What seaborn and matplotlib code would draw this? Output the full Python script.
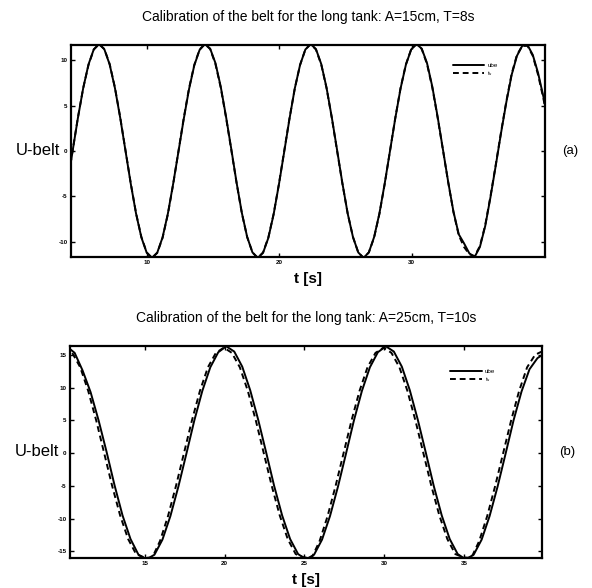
import numpy as np
import pandas as pd
import matplotlib
matplotlib.use("Agg")
import matplotlib.pyplot as plt
import seaborn as sns

# ---------------- panel (a): A=15cm, T=8s ----------------
t_a = [3.96, 4.36, 4.76, 5.16, 5.56, 5.96, 6.36, 6.76, 7.16, 7.56, 7.96, 8.36, 8.76, 9.16,
       9.56, 9.96, 10.36, 10.76, 11.16, 11.56, 11.96, 12.36, 12.76, 13.16, 13.56, 13.96,
       14.36, 14.76, 15.16, 15.56, 15.96, 16.36, 16.76, 17.16, 17.56, 17.96, 18.36, 18.76,
       19.16, 19.56, 19.96, 20.36, 20.76, 21.16, 21.56, 21.96, 22.36, 22.76, 23.16, 23.56,
       23.96, 24.36, 24.76, 25.16, 25.56, 25.96, 26.36, 26.76, 27.16, 27.56, 27.96, 28.36,
       28.76, 29.16, 29.56, 29.96, 30.36, 30.76, 31.16, 31.56, 31.96, 32.36, 32.76, 33.16,
       33.56, 33.96, 34.36, 34.76, 35.16, 35.56, 35.96, 36.36, 36.76, 37.16, 37.56, 37.96,
       38.36, 38.76, 39.16, 39.56, 39.96, 40.36]
ube_a = [-3.65, 0.0, 3.65, 6.94, 9.55, 11.22, 11.8, 11.22, 9.55, 6.94, 3.65, 0.0, -3.65,
         -6.94, -9.55, -11.22, -11.8, -11.22, -9.55, -6.94, -3.65, -0.1, 3.5, 6.8, 9.45,
         11.15, 11.8, 11.3, 9.7, 7.1, 3.8, 0.2, -3.5, -6.85, -9.5, -11.2, -11.8, -11.25,
         -9.6, -7.0, -3.7, -0.1, 3.55, 6.9, 9.5, 11.2, 11.8, 11.25, 9.6, 7.0, 3.7, 0.1,
         -3.55, -6.9, -9.5, -11.2, -11.8, -11.2, -9.5, -6.9, -3.6, 0.0, 3.6, 6.9, 9.5,
         11.2, 11.8, 11.3, 9.7, 7.1, 3.8, 0.2, -3.4, -6.7, -9.2, -10.2, -11.3, -11.7, -10.6,
         -8.3, -5.1, -1.6, 2.0, 5.4, 8.4, 10.5, 11.6, 11.7, 10.6, 8.6, 6.0, 3.0]
ts_a = [-3.6, 0.05, 3.7, 6.95, 9.5, 11.2, 11.8, 11.25, 9.6, 7.0, 3.7, 0.05, -3.6, -6.9,
        -9.5, -11.2, -11.8, -11.25, -9.6, -7.0, -3.7, -0.05, 3.6, 6.9, 9.5, 11.2, 11.8,
        11.25, 9.6, 7.0, 3.7, 0.1, -3.55, -6.9, -9.5, -11.2, -11.8, -11.2, -9.55, -6.95,
        -3.65, 0.0, 3.6, 6.9, 9.5, 11.2, 11.8, 11.2, 9.55, 6.95, 3.65, 0.0, -3.6, -6.9,
        -9.5, -11.2, -11.8, -11.2, -9.55, -6.95, -3.65, 0.0, 3.65, 6.95, 9.55, 11.2, 11.8,
        11.25, 9.6, 7.0, 3.7, 0.15, -3.45, -6.75, -9.3, -10.6, -11.4, -11.6, -10.5, -8.2,
        -5.0, -1.5, 2.1, 5.5, 8.5, 10.6, 11.6, 11.6, 10.5, 8.4, 5.8, 2.8]
xticks_a = [10, 20, 30]
yticks_a = [-10, -5, 0, 5, 10]

# ---------------- panel (b): A=25cm, T=10s ----------------
t_b = [10.1, 10.6, 11.1, 11.6, 12.1, 12.6, 13.1, 13.6, 14.1, 14.6, 15.1, 15.6, 16.1, 16.6,
       17.1, 17.6, 18.1, 18.6, 19.1, 19.6, 20.1, 20.6, 21.1, 21.6, 22.1, 22.6, 23.1, 23.6,
       24.1, 24.6, 25.1, 25.6, 26.1, 26.6, 27.1, 27.6, 28.1, 28.6, 29.1, 29.6, 30.1, 30.6,
       31.1, 31.6, 32.1, 32.6, 33.1, 33.6, 34.1, 34.6, 35.1, 35.6, 36.1, 36.6, 37.1, 37.6,
       38.1, 38.6, 39.1, 39.6, 40.1]
ube_b = [16.3, 15.3, 12.6, 9.3, 5.0, 0.2, -4.9, -9.5, -13.1, -15.5, -16.2, -15.5, -13.2,
         -9.6, -5.1, -0.1, 5.0, 9.5, 13.1, 15.4, 16.3, 15.5, 13.2, 9.6, 5.1, 0.1, -5.0, -9.5,
         -13.1, -15.4, -16.2, -15.5, -13.2, -9.6, -5.1, -0.1, 5.0, 9.5, 13.1, 15.4, 16.3, 15.5,
         13.2, 9.6, 5.1, 0.1, -5.0, -9.5, -13.1, -15.4, -16.2, -15.5, -13.2, -9.6, -5.1, -0.1,
         5.0, 9.4, 12.8, 14.5, 15.3]
t_b_ref = [9.95, 10.45, 10.95, 11.45, 11.95, 12.45, 12.95, 13.45, 13.95, 14.45, 14.95,
           15.45, 15.95, 16.45, 16.95, 17.45, 17.95, 18.45, 18.95, 19.45, 19.95, 20.45,
           20.95, 21.45, 21.95, 22.45, 22.95, 23.45, 23.95, 24.45, 24.95, 25.45, 25.95,
           26.45, 26.95, 27.45, 27.95, 28.45, 28.95, 29.45, 29.95, 30.45, 30.95, 31.45,
           31.95, 32.45, 32.95, 33.45, 33.95, 34.45, 34.95, 35.45, 35.95, 36.45, 36.95,
           37.45, 37.95, 38.45, 38.95, 39.45, 39.95, 40.45]
ts_b = [16.1, 15.3, 13.1, 9.5, 5.0, 0.0, -5.0, -9.5, -13.1, -15.4, -15.9, -16.0, -13.4,
        -9.6, -5.0, 0.0, 5.0, 9.5, 13.1, 15.3, 16.1, 15.3, 13.1, 9.5, 5.0, 0.0, -5.0, -9.5,
        -13.1, -15.4, -15.9, -16.0, -13.4, -9.6, -5.0, 0.0, 5.0, 9.5, 13.1, 15.3, 16.1, 15.3,
        13.1, 9.5, 5.0, 0.0, -5.0, -9.5, -13.1, -15.4, -15.9, -16.0, -13.4, -9.6, -5.0, 0.0,
        5.0, 9.5, 13.1, 15.0, 15.6, 15.2]
xticks_b = [15, 20, 25, 30, 35]
yticks_b = [-15, -10, -5, 0, 5, 10, 15]

series_names = ["ube", "t$_s$"]

sns.set_theme(style="ticks")
plt.rcParams["font.family"] = ["Liberation Sans", "DejaVu Sans"]
plt.rcParams["axes.unicode_minus"] = False
plt.rcParams["text.color"] = "black"
plt.rcParams["axes.labelcolor"] = "black"
plt.rcParams["xtick.color"] = "black"
plt.rcParams["ytick.color"] = "black"

fig = plt.figure(figsize=(5.92, 5.88), dpi=100)
ax_a = fig.add_axes([0.120, 0.563, 0.801, 0.3605])
ax_b = fig.add_axes([0.118, 0.051, 0.798, 0.3606])


def long_frame(t1, y1, t2, y2):
    return pd.concat([
        pd.DataFrame({"t": t1, "U": y1, "series": series_names[0]}),
        pd.DataFrame({"t": t2, "U": y2, "series": series_names[1]}),
    ], ignore_index=True)


panels = [
    (ax_a, long_frame(t_a, ube_a, t_a, ts_a), (4.24, 40.1), (-11.7, 11.7), xticks_a, yticks_a,
     "Calibration of the belt for the long tank: A=15cm, T=8s", "(a)", 0.93),
    (ax_b, long_frame(t_b, ube_b, t_b_ref, ts_b), (10.3, 39.9), (-16.0, 16.35), xticks_b, yticks_b,
     "Calibration of the belt for the long tank: A=25cm, T=10s", "(b)", 0.905),
]

for ax, df, xl, yl, xt, yt, title, tag, leg_y in panels:
    sns.lineplot(data=df, x="t", y="U", style="series", color="black",
                 dashes={series_names[0]: "", series_names[1]: (3, 2)},
                 estimator=None, sort=False, linewidth=1.4, ax=ax)
    ax.set_xlim(*xl)
    ax.set_ylim(*yl)
    ax.set_xticks(xt)
    ax.set_yticks(yt)
    ax.tick_params(direction="in", length=3, width=1, top=True, right=True,
                   labelsize=4.5, pad=2.5, colors="black")
    for lab in ax.get_xticklabels() + ax.get_yticklabels():
        lab.set_fontweight("bold")
    for s in ax.spines.values():
        s.set_linewidth(1.6)
        s.set_color("black")
    ax.set_xlabel("t [s]", fontsize=11, fontweight="bold", labelpad=5, color="black")
    ax.set_ylabel("U-belt", fontsize=12, rotation=0, va="center", ha="right", color="black")
    ax.yaxis.set_label_coords(-0.022, 0.5)
    ax.set_title(title, fontsize=10, pad=17, color="black")
    ax.text(1.052, 0.5, tag, transform=ax.transAxes, fontsize=9.5, va="center",
            ha="center", color="black")
    ax.legend(loc="upper left", bbox_to_anchor=(0.8, leg_y), frameon=False,
              fontsize=4.5, handlelength=5, handletextpad=0.5, labelspacing=0.25,
              borderaxespad=0)

fig.savefig("out.png", dpi=100, facecolor="white")
